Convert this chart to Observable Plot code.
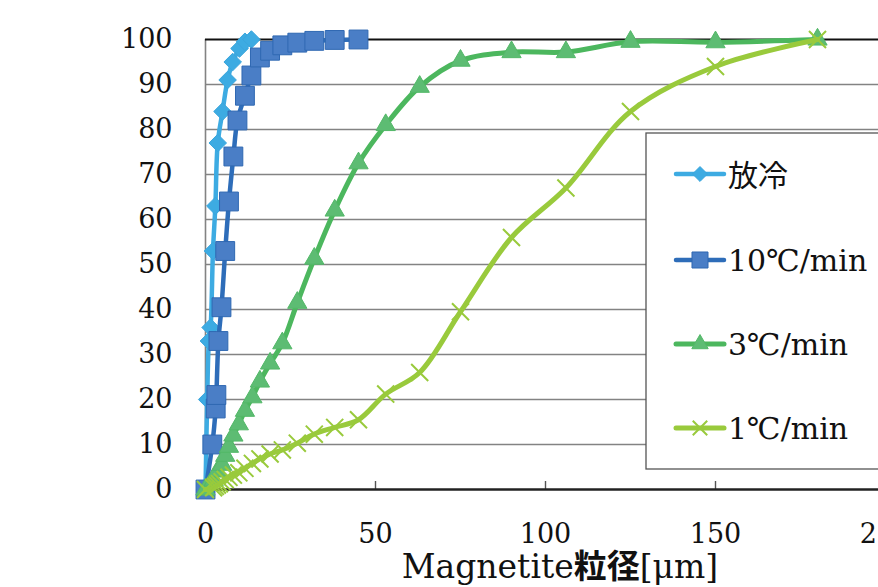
<!DOCTYPE html>
<html><head><meta charset="utf-8">
<script src="https://cdn.jsdelivr.net/npm/d3@7"></script>
<script src="https://cdn.jsdelivr.net/npm/@observablehq/plot@0.6"></script>
<style>
body{margin:0;background:#fff;}
#chart{position:relative;width:878px;height:587px;overflow:hidden;background:#fff;}
</style>
</head><body><div id="chart"></div>
<script>
// ---- data ----
const seriesNames = ["放冷", "10℃/min", "3℃/min", "1℃/min"];
const xHourei = [0, 0.5, 1, 1.5, 2.2, 2.9, 3.6, 5, 6.5, 8, 10, 11.6, 13.5];
const yHourei = [0, 20, 33, 36, 53, 63, 77, 84, 91, 95, 98, 99.5, 100];
const x10 = [0, 2, 3, 3.2, 3.8, 4.7, 5.8, 6.9, 8.2, 9.4, 11.6, 13.5, 16, 19, 22.6, 27, 32, 38, 45];
const y10 = [0, 10, 18, 21, 33, 40.5, 53, 64, 74, 82, 87.5, 92, 96, 97.5, 98.7, 99.3, 99.7, 99.9, 100];
const x3 = [0, 2.4, 3.5, 4.9, 5.8, 6.9, 8.2, 9.8, 11.6, 13.8, 16, 19, 22.6, 27, 32, 38, 45, 53, 63, 75, 90, 106, 125, 150, 180];
const y3 = [0, 2, 4, 5.5, 7.5, 9.5, 12, 14.5, 17.5, 20.5, 24, 28, 32.5, 41.5, 51.3, 62, 72.5, 81, 89.5, 95.3, 97.2, 97.2, 99.5, 99.4, 100];
const x1 = [0, 2.4, 2.9, 3.5, 4.1, 4.9, 5.8, 6.9, 8.2, 9.8, 11.6, 13.8, 16, 19, 22.6, 27, 32, 38, 45, 53, 63, 75, 90, 106, 125, 150, 180];
const y1 = [0, 0.4, 0.7, 1, 1.3, 1.7, 2.2, 2.7, 3.2, 3.7, 4.7, 5.8, 6.8, 7.9, 8.8, 10.3, 12.3, 13.8, 15.5, 21.2, 26, 39.5, 56, 67, 84, 94, 100];
const xTicks = [0, 50, 100, 150, 200];
const yTicks = [0, 10, 20, 30, 40, 50, 60, 70, 80, 90, 100];

// ---- styles ----
const styles = [
  {line: "#3DABE2", fill: "#3DABE2", stroke: "#3AA6DD", symbol: "diamond2", r: 7.9, sw: 4.5},
  {line: "#2E6DB9", fill: "#4A7EC6", stroke: "#2F68B2", symbol: "square2", r: 12, sw: 4.5},
  {line: "#4CB75E", fill: "#5DBC73", stroke: "#53B868", symbol: "triangle2", r: 9.2, sw: 5},
  {line: "#99CA3C", fill: "none", stroke: "#99CA3C", symbol: "times", r: 7.8, sw: 5}
];
const xs = [xHourei, x10, x3, x1], ys = [yHourei, y10, y3, y1];
const series = seriesNames.map((name, k) => xs[k].map((x, i) => ({name, x, y: ys[k][i]})));

const serif = "'DejaVu Serif', 'Liberation Serif', serif";
const sans = "'Noto Sans CJK JP', 'Noto Sans', sans-serif";

const seriesMarks = series.flatMap((data, k) => {
  const s = styles[k];
  return [
    Plot.line(data, {x: "x", y: "y", stroke: s.line, strokeWidth: s.sw, curve: "catmull-rom", strokeLinejoin: "round", strokeLinecap: "round"}),
    Plot.dot(data, {x: "x", y: "y", symbol: s.symbol, r: s.r, fill: s.fill, stroke: s.stroke, strokeWidth: s.symbol === "times" ? 2 : 1})
  ];
});

const plot = Plot.plot({
  width: 878, height: 587,
  marginLeft: 205, marginRight: 0, marginTop: 39, marginBottom: 98,
  style: {fontFamily: serif, background: "white", color: "#111", overflow: "visible"},
  x: {domain: [0, 200], range: [205, 885]},
  y: {domain: [0, 100]},
  marks: [
    Plot.ruleY(yTicks.filter(d => d > 0 && d < 100), {stroke: "#838383", strokeWidth: 1.6}),
    Plot.ruleX([0], {stroke: "#838383", strokeWidth: 1.6}),
    Plot.ruleY([100], {stroke: "#111", strokeWidth: 2.2}),
    Plot.ruleX(xTicks.filter(d => d > 0), {y1: 0, y2: 0, insetTop: -8, stroke: "#555", strokeWidth: 1.4}),
    Plot.ruleY([0], {stroke: "#222", strokeWidth: 2.6}),
    Plot.axisY({ticks: yTicks, tickSize: 0, tickPadding: 33, fontSize: 27, fontFamily: serif, label: null}),
    Plot.axisX({ticks: xTicks, tickSize: 0, tickPadding: 34, fontSize: 27, fontFamily: serif, label: null}),
    ...seriesMarks
  ]
});

document.getElementById("chart").appendChild(plot);

// ---- axis title ----
const svg = d3.select(plot);
const t = svg.append("text").attr("x", 560).attr("y", 578).attr("text-anchor", "middle").attr("fill", "#111");
t.append("tspan").attr("font-family", serif).attr("font-size", 33).text("Magnetite");
t.append("tspan").attr("font-family", sans).attr("font-weight", 700).attr("font-size", 33).text("粒径");
t.append("tspan").attr("font-family", serif).attr("font-size", 33).text("[μm]");

// ---- legend ----
const lg = svg.append("g");
lg.append("rect").attr("x", 646).attr("y", 133).attr("width", 300).attr("height", 336)
  .attr("fill", "white").attr("stroke", "#555").attr("stroke-width", 1.3);
const ly = [174, 260, 344, 428];
const symMap = {diamond2: d3.symbolDiamond2, square2: d3.symbolSquare2, triangle2: d3.symbolTriangle2, times: d3.symbolTimes};
seriesNames.forEach((name, k) => {
  const s = styles[k];
  lg.append("line").attr("x1", 676).attr("x2", 724).attr("y1", ly[k]).attr("y2", ly[k])
    .attr("stroke", s.line).attr("stroke-width", s.sw).attr("stroke-linecap", "round");
  const lr = s.r * 0.85;
  lg.append("path").attr("transform", `translate(700,${ly[k]})`)
    .attr("d", d3.symbol(symMap[s.symbol], Math.PI * lr * lr)())
    .attr("fill", s.fill).attr("stroke", s.stroke).attr("stroke-width", s.symbol === "times" ? 2 : 1);
  const isCJK = k === 0;
  lg.append("text").attr("x", 728).attr("y", ly[k] + (isCJK ? 12 : 11))
    .attr("text-anchor", "start")
    .attr("font-family", isCJK ? sans : serif).attr("font-size", isCJK ? 30 : 30)
    .attr("fill", "#111").text(name);
});
</script>
</body></html>
